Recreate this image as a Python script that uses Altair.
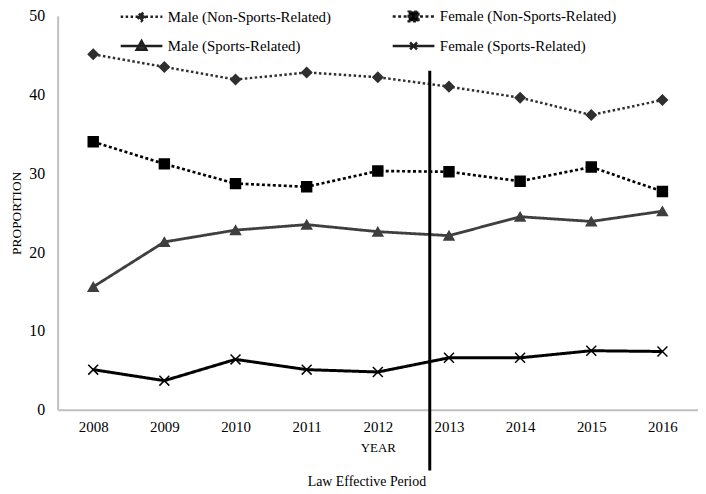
import altair as alt
import pandas as pd

years = [2008, 2009, 2010, 2011, 2012, 2013, 2014, 2015, 2016]
male_non_sports = [45.1, 43.5, 41.9, 42.8, 42.2, 41.0, 39.6, 37.4, 39.3]
female_non_sports = [34.0, 31.2, 28.7, 28.3, 30.3, 30.2, 29.0, 30.8, 27.7]
male_sports = [15.6, 21.3, 22.8, 23.5, 22.6, 22.1, 24.5, 23.9, 25.2]
female_sports = [5.1, 3.7, 6.4, 5.1, 4.8, 6.6, 6.6, 7.5, 7.4]

series_names = [
    "Male (Non-Sports-Related)",
    "Female (Non-Sports-Related)",
    "Male (Sports-Related)",
    "Female (Sports-Related)",
]
series_values = [male_non_sports, female_non_sports, male_sports, female_sports]
series_colors = ["#2f2f2f", "#000000", "#3f3f3f", "#000000"]
series_dash = [[2.5, 2.5], [3, 2.5], [1, 0], [1, 0]]
series_width = [2.5, 3, 3, 3]
marker_shapes = ["diamond", "square", "triangle-up", "M-1,-1L1,1M-1,1L1,-1"]
legend_paths = [
    "M-3,0H3M0,-0.6L0.6,0L0,0.6L-0.6,0Z",
    "M-3,0H3M-0.7,-0.7H0.7V0.7H-0.7Z",
    "M-3,0H3M0,-0.7L0.7,0.55H-0.7Z",
    "M-3,0H3M-0.5,-0.5L0.5,0.5M-0.5,0.5L0.5,-0.5",
]

law_year = 2012.73
law_top = 43.0
law_bottom = -7.7

rows = []
for name, vals in zip(series_names, series_values):
    for yr, v in zip(years, vals):
        rows.append({"year": yr, "value": v, "series": name})
df = pd.DataFrame(rows)

FONT = "Liberation Serif"

x_enc = alt.X(
    "year:Q",
    scale=alt.Scale(domain=[2007.5, 2016.5], nice=False, zero=False),
    axis=alt.Axis(
        values=years, format="d", title="YEAR", labelFontSize=15, labelFont=FONT,
        titleFont=FONT, titleFontSize=13, titleFontWeight="normal", ticks=False,
        grid=False, domainColor="#bfbfbf", domainWidth=2, labelPadding=10,
        titlePadding=7, labelColor="black", titleColor="black",
    ),
)
y_enc = alt.Y(
    "value:Q",
    scale=alt.Scale(domain=[0, 50], nice=False),
    axis=alt.Axis(
        values=[0, 10, 20, 30, 40, 50], title="PROPORTION", labelFontSize=16,
        labelFont=FONT, titleFont=FONT, titleFontSize=13.5, titleFontWeight="normal",
        ticks=False, grid=False, domainColor="#bfbfbf", domainWidth=2,
        labelPadding=13, titlePadding=5, labelColor="black", titleColor="black",
    ),
)

color_scale = alt.Scale(domain=series_names, range=series_colors)
dash_scale = alt.Scale(domain=series_names, range=series_dash)
width_scale = alt.Scale(domain=series_names, range=series_width)
shape_scale = alt.Scale(domain=series_names, range=marker_shapes)
legend_shape_scale = alt.Scale(domain=series_names, range=legend_paths)

base = alt.Chart(df)

lines = base.mark_line().encode(
    x=x_enc,
    y=y_enc,
    color=alt.Color("series:N", scale=color_scale, legend=None),
    strokeDash=alt.StrokeDash("series:N", scale=dash_scale, legend=None),
    strokeWidth=alt.StrokeWidth("series:N", scale=width_scale, legend=None),
)

points = base.mark_point(filled=True, size=100, strokeWidth=1.5, opacity=1).encode(
    x=x_enc,
    y=y_enc,
    color=alt.Color("series:N", scale=color_scale, legend=None),
    stroke=alt.Stroke("series:N", scale=color_scale, legend=None),
    shape=alt.Shape("series:N", scale=shape_scale, legend=None),
)

leg = alt.Legend(
    title=None, orient="none", legendX=76, legendY=-8, columns=2,
    direction="horizontal", labelFont=FONT, labelFontSize=15, labelColor="black",
    symbolSize=196, symbolStrokeWidth=2.5, symbolOpacity=1, labelOffset=18,
    columnPadding=56, rowPadding=9, padding=0, labelLimit=400,
)

legend_layer = base.mark_point(filled=True, stroke="#1f1f1f").encode(
    x=x_enc,
    y=y_enc,
    opacity=alt.value(0),
    color=alt.Color("series:N", scale=color_scale, legend=leg),
    shape=alt.Shape("series:N", scale=legend_shape_scale, legend=leg),
    strokeDash=alt.StrokeDash("series:N", scale=dash_scale, legend=leg),
)

rule_df = pd.DataFrame({"x": [law_year], "y": [law_top], "y2": [law_bottom]})
rule = alt.Chart(rule_df).mark_rule(color="black", strokeWidth=3, clip=False).encode(
    x="x:Q", y="y:Q", y2="y2:Q"
)

chart = (
    alt.layer(lines, points, legend_layer, rule)
    .resolve_scale(color="independent", shape="independent",
                   strokeDash="independent", stroke="independent",
                   strokeWidth="independent")
    .properties(
        width=645,
        height=397,
        autosize=alt.AutoSizeParams(type="none"),
        padding={"left": 50, "top": 6, "right": 0, "bottom": 80},
        title=alt.TitleParams(
            "Law Effective Period", orient="bottom", anchor="middle", frame="group",
            dx=-11, offset=3, fontSize=14, font=FONT, fontWeight="normal",
            color="black",
        ),
    )
    .configure(font=FONT)
    .configure_view(stroke=None)
    .configure_axis(labelFont=FONT, titleFont=FONT)
    .configure_legend(labelFont=FONT)
)

chart.save("out.html", embed_options={"renderer": "svg", "actions": False})
